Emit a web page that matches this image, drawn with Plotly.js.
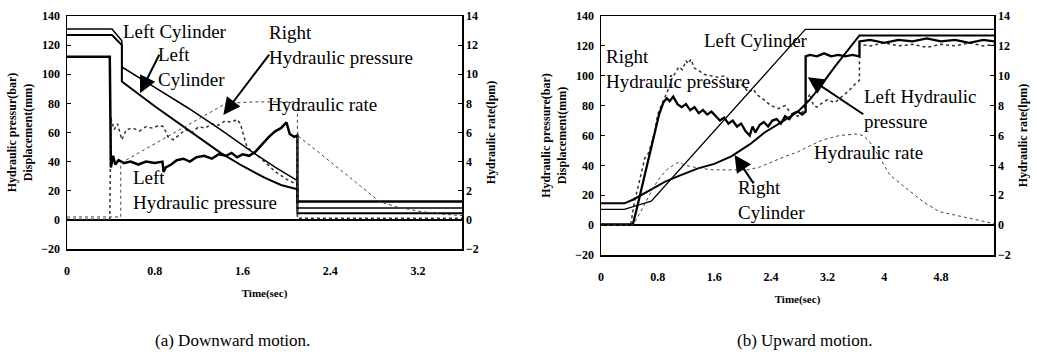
<!DOCTYPE html>
<html><head><meta charset="utf-8">
<script src="https://cdn.plot.ly/plotly-3.0.1.min.js"></script>
<style>html,body{margin:0;padding:0;background:#fff}</style>
</head><body>
<div id="chart" style="width:1037px;height:362px"></div>
<script>
// ---------- (a) Downward motion ----------
var aUpperCylT = [0, 0.41, 0.50, 0.50, 0.8, 1.1, 1.4, 1.7, 1.9, 2.1, 2.1, 3.6];
var aUpperCylV = [131, 131, 123, 105, 91, 77, 62, 46, 36, 27, 8.2, 8.2];
var aLowerCylT = [0, 0.41, 0.50, 0.50, 0.8, 1.1, 1.4, 1.6, 1.8, 1.95, 2.1, 2.1, 3.6];
var aLowerCylV = [127, 127, 120, 95, 78, 62, 46, 37, 29, 24, 21, 4.5, 4.5];
var aLeftPT = [0, 0.39, 0.40, 0.42, 0.44, 0.47, 0.52, 0.58, 0.65, 0.72, 0.80, 0.87, 0.88, 0.90, 0.95, 1.00, 1.06, 1.12, 1.18, 1.25, 1.32, 1.38, 1.45, 1.50, 1.55, 1.60, 1.66, 1.72, 1.78, 1.84, 1.90, 1.95, 2.00, 2.03, 2.07, 2.10, 2.10, 3.6];
var aLeftPV = [112, 112, 36, 44, 38, 41, 39, 40, 38, 40, 39, 40, 33, 36, 38, 41, 42, 40, 43, 44, 42, 45, 44, 46, 43, 45, 44, 47, 52, 57, 61, 63, 67, 59, 57, 58, 12.6, 12.6];
var aRightPT = [0, 0.39, 0.40, 0.43, 0.46, 0.50, 0.54, 0.60, 0.66, 0.72, 0.78, 0.84, 0.88, 0.92, 0.97, 1.02, 1.08, 1.14, 1.20, 1.26, 1.32, 1.38, 1.44, 1.50, 1.55, 1.58, 1.64, 1.72, 1.80, 1.90, 2.00, 2.10, 2.10, 3.6];
var aRightPV = [0.5, 0.5, 70, 62, 66, 55, 62, 63, 61, 64, 63, 65, 64, 57, 55, 58, 62, 60, 64, 63, 66, 65, 68, 67, 69, 66, 50, 45, 40, 33, 28, 24, 1.2, 1.2];
var aRateT = [0, 0.49, 0.49, 0.7, 0.9, 1.1, 1.3, 1.45, 1.7, 1.9, 2.1, 2.1, 2.1, 2.3, 2.5, 2.7, 2.85, 3.0, 3.2, 3.4, 3.6];
var aRateV = [0.2, 0.2, 3.9, 4.8, 5.7, 6.5, 7.4, 8.0, 8.1, 8.1, 8.1, 0.2, 5.8, 4.6, 3.4, 2.2, 1.25, 0.9, 0.6, 0.4, 0.3];

// ---------- (b) Upward motion ----------
var bRightCylT = [0, 0.33, 0.45, 0.6, 0.75, 0.9, 1.1, 1.37, 1.6, 1.84, 2.1, 2.31, 2.55, 2.78, 2.95, 3.1, 3.3, 3.5, 3.65, 5.55];
var bRightCylV = [14.6, 14.6, 17, 21, 25, 29, 33, 38, 41, 46, 54, 62, 69, 76, 84, 93, 106, 118, 127, 127];
var bLeftCylT = [0, 0.33, 0.5, 0.71, 2.885, 5.55];
var bLeftCylV = [10.5, 10.5, 13, 16, 131, 131];
var bLeftPT = [0, 0.45, 0.5, 0.55, 0.6, 0.68, 0.75, 0.82, 0.88, 0.93, 0.97, 1.02, 1.08, 1.14, 1.2, 1.26, 1.32, 1.38, 1.44, 1.5, 1.56, 1.62, 1.68, 1.74, 1.8, 1.86, 1.92, 1.98, 2.04, 2.1, 2.14, 2.18, 2.24, 2.3, 2.36, 2.42, 2.48, 2.54, 2.6, 2.66, 2.72, 2.78, 2.84, 2.89, 2.89, 2.95, 3.05, 3.15, 3.25, 3.35, 3.45, 3.55, 3.65, 3.65, 3.8, 4.0, 4.2, 4.4, 4.6, 4.8, 5.0, 5.2, 5.4, 5.55];
var bLeftPV = [0.5, 0.5, 10, 20, 30, 46, 60, 74, 82, 85, 83, 86, 81, 79, 81, 77, 79, 75, 77, 74, 76, 73, 70, 72, 68, 70, 66, 68, 63, 60, 66, 62, 67, 69, 66, 70, 71, 68, 73, 71, 75, 76, 74, 76, 113, 114, 113, 115, 113, 114, 113, 114, 113, 123, 124, 122, 124, 123, 125, 123, 124, 122, 124, 123];
var bRightPT = [0, 0.42, 0.47, 0.52, 0.58, 0.62, 0.66, 0.71, 0.76, 0.8, 0.85, 0.9, 0.96, 1.0, 1.05, 1.1, 1.15, 1.2, 1.23, 1.27, 1.32, 1.37, 1.45, 1.55, 1.65, 1.75, 1.85, 1.93, 2.0, 2.08, 2.15, 2.21, 2.3, 2.4, 2.5, 2.6, 2.7, 2.78, 2.85, 2.9, 2.95, 3.0, 3.05, 3.1, 3.2, 3.3, 3.4, 3.5, 3.6, 3.65, 3.65, 3.8, 4.0, 4.2, 4.4, 4.6, 4.8, 5.0, 5.2, 5.4, 5.55];
var bRightPV = [0.5, 0.5, 15, 25, 38, 45, 47, 54, 63, 74, 80, 85, 92, 98, 102, 106, 104, 110, 108, 111, 105, 104, 101, 100, 99, 100, 95, 93, 94, 89, 91, 87, 84, 80, 78, 80, 74, 73, 76, 82, 88, 80, 79, 81, 84, 82, 86, 90, 95, 97, 121, 120, 122, 120, 121, 119, 121, 120, 122, 120, 121];
var bRateT = [0, 0.45, 0.55, 0.65, 0.75, 0.85, 0.95, 1.09, 1.2, 1.4, 1.6, 1.8, 2.07, 2.25, 2.4, 2.6, 2.78, 2.9, 3.13, 3.37, 3.6, 3.7, 3.79, 3.94, 4.08, 4.31, 4.55, 4.78, 5.01, 5.3, 5.55];
var bRateV = [0, 0, 0.8, 1.7, 2.6, 3.3, 3.8, 4.2, 4.0, 3.8, 3.7, 3.7, 3.7, 3.9, 4.2, 4.6, 4.9, 5.2, 5.7, 6.0, 6.1, 6.0, 5.6, 4.5, 3.35, 2.5, 1.56, 0.9, 0.67, 0.33, 0.1];

var SERIF = '"Liberation Serif", "Times New Roman", Times, serif';

function tr(x, y, xa, ya, w, dash, color) {
  return {x: x, y: y, xaxis: xa, yaxis: ya, type: 'scatter', mode: 'lines',
    line: {color: color || '#000', width: w, dash: dash || 'solid'}, hoverinfo: 'skip'};
}

var data = [
  tr(aRateT, aRateV, 'x', 'y2', 1, 'dot', '#444'),
  tr(aRightPT, aRightPV, 'x', 'y', 1.5, 'dot', '#333'),
  tr(aUpperCylT, aUpperCylV, 'x', 'y', 1.5),
  tr(aLowerCylT, aLowerCylV, 'x', 'y', 2),
  tr(aLeftPT, aLeftPV, 'x', 'y', 2.5),
  tr(bRateT, bRateV, 'x2', 'y4', 1, 'dot', '#444'),
  tr(bRightPT, bRightPV, 'x2', 'y3', 1.5, 'dot', '#333'),
  tr(bLeftCylT, bLeftCylV, 'x2', 'y3', 1.3),
  tr(bRightCylT, bRightCylV, 'x2', 'y3', 2),
  tr(bLeftPT, bLeftPV, 'x2', 'y3', 2.3)
];

var tickFont = {family: SERIF, size: 12, color: '#000', weight: 'bold'};
var titleFont = {family: SERIF, size: 12, color: '#000', weight: 'bold'};

function xax(domain, range, anchor) {
  return {domain: domain, range: range, anchor: anchor, dtick: 0.8, tick0: 0,
    showline: true, mirror: true, linecolor: '#000', linewidth: 1.5,
    ticks: '', showgrid: false, zeroline: false, tickfont: tickFont,
    ticklabelstandoff: 10,
    title: {text: 'Time(sec)', font: {family: SERIF, size: 11, color: '#000', weight: 'bold'}, standoff: 12}};
}
function yax(domain, anchor, title) {
  return {domain: domain, anchor: anchor, range: [-20, 140], dtick: 20,
    showline: true, mirror: true, linecolor: '#000', linewidth: 1.5,
    ticks: 'inside', ticklen: 4, tickcolor: '#000', showgrid: false,
    zeroline: true, zerolinecolor: '#000', zerolinewidth: 1.5,
    tickfont: tickFont, ticklabelstandoff: 3,
    title: {text: title, font: titleFont, standoff: 6}};
}
function y2ax(overlay, anchor) {
  return {overlaying: overlay, anchor: anchor, side: 'right', range: [-2, 14], dtick: 2,
    showline: false, ticks: 'inside', ticklen: 4, tickcolor: '#000', showgrid: false,
    zeroline: false, tickfont: tickFont, ticklabelstandoff: 3,
    title: {text: 'Hydraulic rate(lpm)', font: titleFont, standoff: 8}};
}

function txt(xr, yr, x, y, t, size) {
  return {xref: xr, yref: yr, x: x, y: y, text: t, showarrow: false, align: 'left',
    xanchor: 'left', yanchor: 'middle', borderpad: 0,
    font: {family: SERIF, size: size || 19, color: '#000'}};
}
function arrow(xr, yr, x, y, ax, ay) {
  return {xref: xr, yref: yr, x: x, y: y, ax: ax, ay: ay, text: '', showarrow: true,
    arrowhead: 2, arrowsize: 1.7, arrowwidth: 2, arrowcolor: '#000'};
}

var annotations = [
  // (a)
  txt('x', 'y', 0.5, 129.5, 'Left Cylinder'),
  txt('x', 'y', 0.82, 105, 'Left<br>Cylinder'),
  arrow('x', 'y', 0.665, 87, 20, -40),
  txt('x', 'y', 1.833, 120, 'Right<br>Hydraulic pressure'),
  arrow('x', 'y', 1.425, 72, 47, -62),
  txt('x', 'y', 1.823, 79, 'Hydraulic rate'),
  txt('x', 'y', 0.593, 20.5, 'Left<br>Hydraulic pressure'),
  // (b)
  txt('x2', 'y3', 0.056, 104.5, 'Right<br>Hydraulic pressure'),
  txt('x2', 'y3', 1.44, 123.8, 'Left Cylinder'),
  txt('x2', 'y3', 3.695, 78, 'Left Hydraulic<br>pressure'),
  arrow('x2', 'y3', 2.92, 99, 57, 38),
  txt('x2', 'y3', 2.99, 48.9, 'Hydraulic rate'),
  txt('x2', 'y3', 1.918, 16.5, 'Right<br>Cylinder'),
  arrow('x2', 'y3', 1.886, 47, 20, 30),
  // captions
  {xref: 'paper', yref: 'paper', x: 232 / 1037, y: (362 - 340) / 362, text: '(a) Downward motion.',
    showarrow: false, xanchor: 'center', yanchor: 'middle', font: {family: SERIF, size: 17, color: '#000'}},
  {xref: 'paper', yref: 'paper', x: 805 / 1037, y: (362 - 340) / 362, text: '(b) Upward motion.',
    showarrow: false, xanchor: 'center', yanchor: 'middle', font: {family: SERIF, size: 17, color: '#000'}}
];

var layout = {
  width: 1037, height: 362,
  margin: {l: 0, r: 0, t: 0, b: 0},
  paper_bgcolor: '#fff', plot_bgcolor: '#fff',
  showlegend: false,
  font: {family: SERIF, color: '#000'},
  xaxis: xax([67 / 1037, 462 / 1037], [0, 3.6], 'y'),
  yaxis: yax([(362 - 249) / 362, (362 - 16) / 362], 'x', 'Hydraulic pressur(bar)<br>Displacement(mm)'),
  yaxis2: y2ax('y', 'x'),
  xaxis2: xax([601 / 1037, 994 / 1037], [0, 5.55], 'y3'),
  yaxis3: yax([(362 - 255) / 362, (362 - 16) / 362], 'x2', 'Hydraulic pressure(bar)<br>Displacement(mm)'),
  yaxis4: y2ax('y3', 'x2'),
  annotations: annotations
};

Plotly.newPlot('chart', data, layout, {staticPlot: true, displayModeBar: false});
</script>
</body></html>
